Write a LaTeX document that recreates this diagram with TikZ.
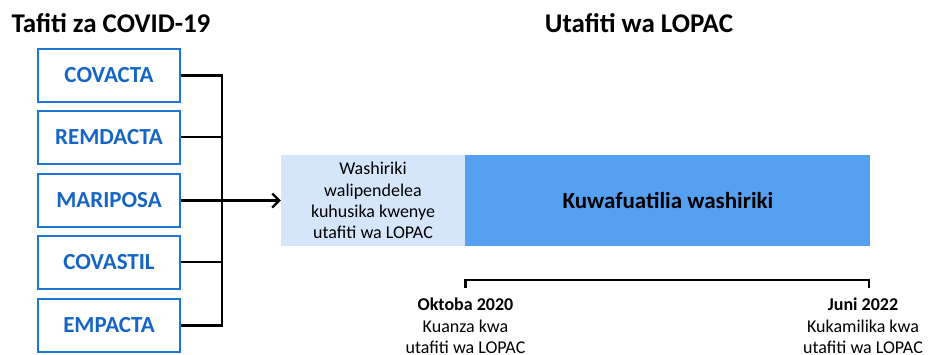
\documentclass[tikz,border=0pt]{standalone}
\usepackage{fontspec}
\setmainfont{Carlito}
\usetikzlibrary{arrows.meta}
\definecolor{boxblue}{HTML}{1C76D2}
\definecolor{txtblue}{HTML}{1566C4}
\definecolor{lightfill}{HTML}{D5E6FA}
\definecolor{darkfill}{HTML}{56A0F2}
\tikzset{
  study/.style={draw=boxblue, line width=2pt, minimum width=142pt, minimum height=53pt,
    inner sep=0pt, text=txtblue, font=\fontsize{23}{27}\selectfont\bfseries},
  title/.style={font=\fontsize{27}{31}\selectfont\bfseries, inner sep=0pt, anchor=base},
  conn/.style={line width=2.6pt, black},
  datelbl/.style={align=center, inner sep=0pt, anchor=north, font=\fontsize{18}{21.3}\selectfont}
}
\begin{document}
\begin{tikzpicture}[x=1pt,y=-1pt]
\useasboundingbox (0,0) rectangle (929,354);
\node[title] (t1) at (111,32) {Tafiti za COVID-19};
\node[title] (t2) at (639,32) {Utafiti wa LOPAC};

\node[study] (s1) at (109,75.5) {COVACTA};
\node[study] (s2) at (109,137) {REMDACTA};
\node[study] (s3) at (109,200.5) {MARIPOSA};
\node[study] (s4) at (109,262) {COVASTIL};
\node[study] (s5) at (109,325.5) {EMPACTA};

\coordinate (jtop) at (222,75.5);
\coordinate (jbot) at (222,325.5);
\draw[conn] (s1.east) -- (jtop) -- (jbot) -- (s5.east);
\draw[conn] (s2.east) -- (s2.east -| jtop);
\draw[conn] (s4.east) -- (s4.east -| jtop);

\node[fill=lightfill, minimum width=184pt, minimum height=91pt, inner sep=0pt,
  align=center, font=\fontsize{18}{21.2}\selectfont] (lb) at (373,200.5)
  {Washiriki\\walipendelea\\kuhusika kwenye\\utafiti wa LOPAC};
\node[fill=darkfill, minimum width=405pt, minimum height=91pt, inner sep=0pt,
  font=\fontsize{23}{27}\selectfont\bfseries, anchor=west] (db) at (lb.east)
  {Kuwafuatilia washiriki};

\draw[line width=2.2pt, -{Straight Barb[length=7pt,width=14pt,line width=2.2pt]}]
  (s3.east) -- (lb.west);

\coordinate (ta) at (465.5,280);
\coordinate (tb) at (869,280);
\draw[line width=2.6pt] ([yshift=-8pt]ta) -- (ta) -- (tb) -- ([yshift=-8pt]tb);

\node[datelbl] (d1) at (465.5,298)
  {\textbf{Oktoba 2020}\\Kuanza kwa\\utafiti wa LOPAC};
\node[datelbl] (d2) at (863,298)
  {\textbf{Juni 2022}\\Kukamilika kwa\\utafiti wa LOPAC};
\end{tikzpicture}
\end{document}
